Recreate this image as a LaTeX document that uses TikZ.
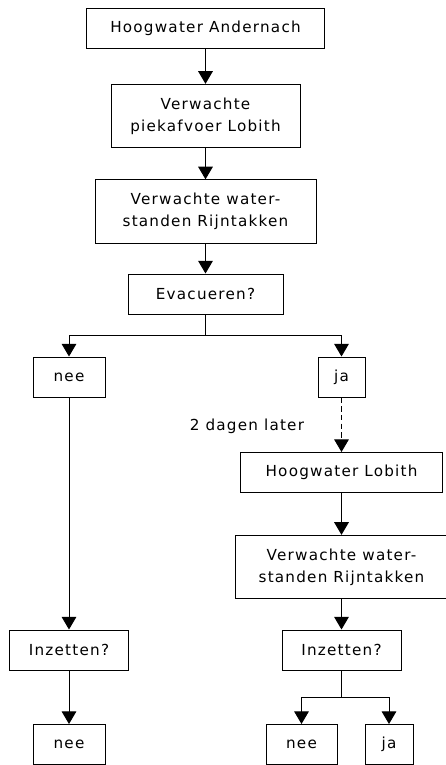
\documentclass[tikz,border=0pt]{standalone}
\usepackage{fontspec}
\setmainfont[LetterSpace=8]{DejaVu Sans}
\usetikzlibrary{arrows.meta}
\begin{document}
\begin{tikzpicture}[x=0.75pt,y=-0.75pt,line width=0.75pt,
		>={Triangle[width=11pt,length=9.5pt]},
		font=\fontsize{11.4pt}{16.5pt}\selectfont,
		box/.style={draw,inner sep=0pt,align=center,minimum height=30pt},
		tallbox/.style={box,minimum height=47.5pt}]
	\useasboundingbox (0,0) rectangle (446,765);
	% linker kolom: hoofdlijn
	\node[box,minimum width=178.5pt] (andernach) at (205.5,28) {Hoogwater Andernach};
	\node[tallbox,minimum width=141.75pt] (piekafvoer) at (205.5,116) {Verwachte\\piekafvoer Lobith};
	\node[tallbox,minimum width=165.75pt] (takken) at (205.5,211.5) {Verwachte water-\\standen Rijntakken};
	\node[box,minimum width=116.25pt] (evacueren) at (205.5,294) {Evacueren?};
	\coordinate (splitsing) at (205.5,335);
	\node[box,minimum width=54pt] (nee) at (69,377) {nee};
	\node[box,minimum width=35.25pt] (ja) at (341.5,377) {ja};
	\node[box,minimum width=89.25pt] (inzettenA) at (69,650) {Inzetten?};
	\node[box,minimum width=54pt] (neeA) at (69,744.5) {nee};
	% rechter kolom: na evacuatie
	\node[anchor=east] (later) at (309,426) {2 dagen later};
	\node[box,minimum width=151.5pt] (lobith) at (341.5,472.5) {Hoogwater Lobith};
	\node[tallbox,minimum width=159pt] (takkenB) at (341.5,567) {Verwachte water-\\standen Rijntakken};
	\node[box,minimum width=89.25pt] (inzettenB) at (341.5,650) {Inzetten?};
	\coordinate (splitsingB) at (341.5,697);
	\node[box,minimum width=53.25pt] (neeB) at (301.5,744.5) {nee};
	\node[box,minimum width=36pt] (jaB) at (389,744.5) {ja};
	% verbindingen
	\draw[->] (andernach) -- (piekafvoer);
	\draw[->] (piekafvoer) -- (takken);
	\draw[->] (takken) -- (evacueren);
	\draw (evacueren) -- (splitsing);
	\draw[->] (splitsing) -| (nee);
	\draw[->] (splitsing) -| (ja);
	\draw[->] (nee) -- (inzettenA);
	\draw[->] (inzettenA) -- (neeA);
	\draw[->,dash pattern=on 4pt off 2.5pt] (ja) -- (lobith);
	\draw[->] (lobith) -- (takkenB);
	\draw[->] (takkenB) -- (inzettenB);
	\draw (inzettenB) -- (splitsingB);
	\draw[->] (splitsingB) -| (neeB);
	\draw[->] (splitsingB) -| (jaB);
\end{tikzpicture}
\end{document}
